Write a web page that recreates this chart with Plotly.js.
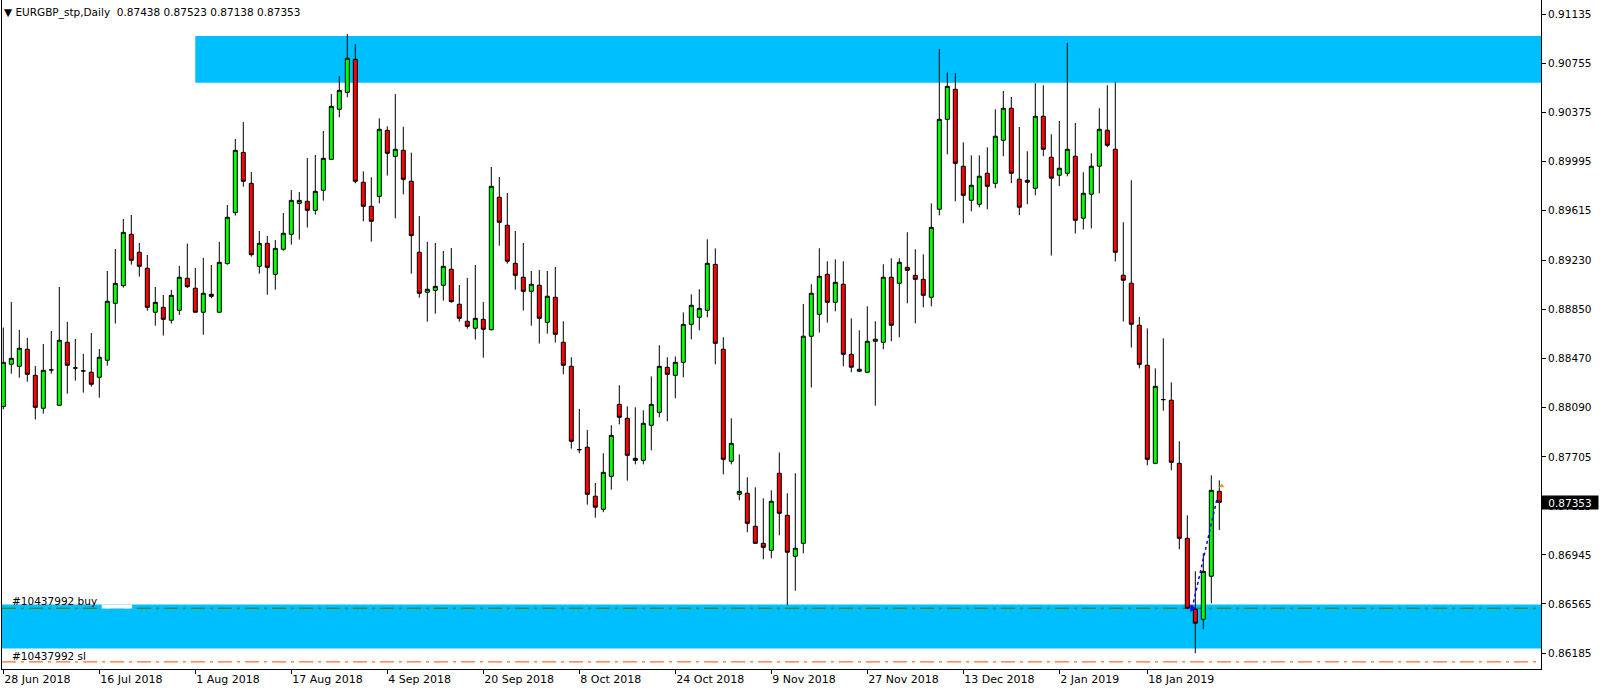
<!DOCTYPE html>
<html>
<head>
<meta charset="utf-8">
<script src="https://cdn.plot.ly/plotly-3.0.1.min.js"></script>
<style>
  html, body { margin: 0; padding: 0; background: #ffffff; }
  #chart { width: 1604px; height: 694px; }
</style>
</head>
<body>
<div id="chart"></div>
<script>
// ---- Data: EURGBP_stp, Daily ----
const symbolTitle = 'EURGBP_stp,Daily';

const openP = [
  0.88095,0.88423,0.88407,0.88539,0.88337,0.88082,0.88379,0.88105,0.88593,0.88394,
  0.88371,0.88361,0.88322,0.88454,0.88895,0.89032,0.89430,0.89291,0.89167,0.88826,
  0.88864,0.88764,0.88841,0.89089,0.89012,0.88826,0.88965,0.88826,0.89203,0.89598,
  0.90065,0.89825,0.89182,0.89360,0.89120,0.89314,0.89430,0.89670,0.89686,0.89616,
  0.89771,0.90011,0.90399,0.90530,0.90786,0.89833,0.89647,0.89724,0.90236,0.90034,
  0.90081,0.89841,0.89291,0.88981,0.88996,0.89035,0.89159,0.88888,0.88756,0.88702,
  0.88771,0.88691,0.89717,0.89500,0.89205,0.89097,0.88988,0.89035,0.88748,0.88942,
  0.88593,0.88407,0.87761,0.87780,0.87400,0.87299,0.87554,0.88112,0.88004,0.87694,
  0.87678,0.87950,0.88050,0.88399,0.88337,0.88438,0.88732,0.88787,0.88841,0.89197,
  0.88539,0.87671,0.87415,0.87423,0.87167,0.87035,0.86981,0.87578,0.87252,0.86935,
  0.87035,0.88640,0.88810,0.89120,0.88903,0.89043,0.88500,0.88369,0.88361,0.88601,
  0.88593,0.89097,0.89050,0.89174,0.89112,0.89081,0.88942,0.89624,0.90321,0.90554,
  0.89957,0.89694,0.89663,0.89903,0.89825,0.90159,0.90407,0.89857,0.89849,0.89787,
  0.90345,0.90027,0.89888,0.89903,0.90035,0.89555,0.89741,0.89958,0.90237,0.90089,
  0.89113,0.89051,0.88725,0.88415,0.87655,0.88149,0.88144,0.87655,0.87074,0.86524,
  0.86446,0.86780,0.87438
];
const highP = [
  0.88707,0.88906,0.88689,0.88627,0.88410,0.88580,0.88681,0.89022,0.88751,0.88619,
  0.88503,0.88665,0.88541,0.89146,0.89316,0.89549,0.89580,0.89363,0.89270,0.89022,
  0.88960,0.88999,0.89185,0.89358,0.89169,0.89247,0.89192,0.89371,0.89657,0.90169,
  0.90300,0.89913,0.89456,0.89417,0.89386,0.89595,0.89773,0.89758,0.90021,0.90045,
  0.90231,0.90517,0.90657,0.90982,0.90905,0.89918,0.89872,0.90329,0.90267,0.90517,
  0.90264,0.90063,0.89572,0.89371,0.89363,0.89301,0.89324,0.89037,0.89092,0.89192,
  0.88906,0.89952,0.89874,0.89750,0.89456,0.89363,0.89146,0.89154,0.89146,0.89177,
  0.88756,0.88477,0.88077,0.87914,0.87503,0.87733,0.87950,0.88260,0.88097,0.88089,
  0.88066,0.88329,0.88570,0.88477,0.88484,0.88825,0.88965,0.89004,0.89391,0.89321,
  0.88632,0.88004,0.87725,0.87547,0.87469,0.87384,0.87446,0.87740,0.87423,0.87578,
  0.88890,0.89043,0.89322,0.89221,0.89236,0.89221,0.88779,0.88686,0.88872,0.88756,
  0.89198,0.89244,0.89244,0.89446,0.89314,0.89275,0.89670,0.90864,0.90685,0.90678,
  0.90143,0.90042,0.90042,0.90104,0.90399,0.90541,0.90495,0.90262,0.90074,0.90601,
  0.90585,0.90206,0.90309,0.90913,0.90293,0.89911,0.90058,0.90407,0.90585,0.90608,
  0.89524,0.89849,0.88790,0.88701,0.88391,0.88624,0.88283,0.87826,0.87252,0.86818,
  0.86958,0.87562,0.87523
];
const lowP = [
  0.88074,0.88350,0.88319,0.88288,0.87994,0.88040,0.88350,0.88103,0.88195,0.88296,
  0.88203,0.88250,0.88164,0.88412,0.88738,0.89017,0.89195,0.89102,0.88838,0.88722,
  0.88645,0.88738,0.88805,0.89014,0.88826,0.88652,0.88934,0.88826,0.89195,0.89575,
  0.89799,0.89257,0.89125,0.88962,0.89001,0.89303,0.89350,0.89389,0.89482,0.89582,
  0.89691,0.90011,0.90337,0.90492,0.89825,0.89531,0.89373,0.89670,0.89885,0.89554,
  0.89740,0.89125,0.88939,0.88753,0.88815,0.88916,0.88900,0.88753,0.88699,0.88614,
  0.88474,0.88684,0.89342,0.89203,0.89001,0.88839,0.88722,0.88583,0.88660,0.88591,
  0.88345,0.87769,0.87733,0.87335,0.87234,0.87276,0.87451,0.87957,0.87521,0.87647,
  0.87647,0.87756,0.88012,0.87981,0.88159,0.88322,0.88616,0.88686,0.88787,0.88422,
  0.87570,0.87647,0.87368,0.87121,0.87035,0.86911,0.86919,0.87097,0.86557,0.86668,
  0.86958,0.88242,0.88668,0.88746,0.88833,0.88407,0.88361,0.88361,0.88353,0.88102,
  0.88539,0.88601,0.88632,0.88895,0.88740,0.88864,0.88872,0.89577,0.90050,0.89686,
  0.89515,0.89608,0.89639,0.89624,0.89787,0.90035,0.89826,0.89578,0.89663,0.89733,
  0.90035,0.89265,0.89803,0.89880,0.89436,0.89467,0.89475,0.89748,0.90105,0.89219,
  0.88754,0.88552,0.88391,0.87640,0.87648,0.88063,0.87601,0.86989,0.86524,0.86183,
  0.86369,0.86570,0.87138
];
const closeP = [
  0.88438,0.88469,0.88547,0.88345,0.88089,0.88376,0.88379,0.88609,0.88415,0.88394,
  0.88371,0.88268,0.88477,0.88911,0.89050,0.89445,0.89229,0.89182,0.88864,0.88903,
  0.88771,0.88957,0.89097,0.89024,0.88826,0.88973,0.88949,0.89213,0.89562,0.90081,
  0.89841,0.89272,0.89360,0.89174,0.89321,0.89438,0.89693,0.89693,0.89616,0.89763,
  0.90019,0.90422,0.90546,0.90794,0.89841,0.89647,0.89531,0.90244,0.90058,0.90089,
  0.89856,0.89420,0.88973,0.89004,0.89027,0.89182,0.88908,0.88779,0.88717,0.88779,
  0.88694,0.89802,0.89523,0.89221,0.89112,0.88988,0.89043,0.88779,0.88950,0.88655,
  0.88415,0.87826,0.87761,0.87415,0.87315,0.87585,0.87872,0.88012,0.87717,0.87678,
  0.87965,0.88112,0.88407,0.88345,0.88438,0.88732,0.88880,0.88856,0.89205,0.88585,
  0.87686,0.87810,0.87438,0.87190,0.87035,0.87004,0.87361,0.87268,0.86966,0.86997,
  0.88640,0.88973,0.89105,0.88903,0.89058,0.88500,0.88400,0.88384,0.88601,0.88617,
  0.89097,0.88725,0.89213,0.89151,0.89081,0.88957,0.89484,0.90321,0.90577,0.89980,
  0.89732,0.89810,0.89880,0.89802,0.90190,0.90407,0.89903,0.89640,0.89834,0.90345,
  0.90089,0.89865,0.89942,0.90089,0.89539,0.89748,0.89958,0.90244,0.90120,0.89291,
  0.89074,0.88733,0.88422,0.87686,0.88252,0.88149,0.87663,0.87074,0.86532,0.86416,
  0.86818,0.87446,0.87353
];

// date labels and the bar each one sits on
const dateLabels = ['28 Jun 2018','16 Jul 2018','1 Aug 2018','17 Aug 2018','4 Sep 2018',
  '20 Sep 2018','8 Oct 2018','24 Oct 2018','9 Nov 2018','27 Nov 2018','13 Dec 2018',
  '2 Jan 2019','18 Jan 2019'];
const dateTickBars = [0, 12, 24, 36, 48, 60, 72, 84, 96, 108, 120, 132, 143];

// price scale labels
const priceTicks = [0.91135,0.90755,0.90375,0.89995,0.89615,0.89230,0.88850,0.88470,
  0.88090,0.87705,0.87325,0.86945,0.86565,0.86185];

// zones and order levels
const resistanceZone = [0.90605, 0.90967];
const resistanceStartBar = 24;
const supportZone = [0.86219, 0.86560];
const orderId = '#10437992';
const buyPrice = 0.86532;
const slPrice = 0.86116;
const tradeX = [148.6, 151.7];
const tradeY = [0.86532, 0.87376];
const markX = [152.3];
const markY = [0.87480];

// ---- Build ----
const idx = openP.map((_, i) => i);
const last = openP.length - 1;
const xRange = [-0.1625, 192.2125];
const yRange = [0.86061, 0.91246];
const FONT = 'DejaVu Sans, Verdana, sans-serif';
const fmt = v => v.toFixed(5);

const traces = [
  {
    type: 'candlestick', x: idx, open: openP, high: highP, low: lowP, close: closeP,
    increasing: { line: { color: '#000000', width: 1 }, fillcolor: '#00ff00' },
    decreasing: { line: { color: '#000000', width: 1 }, fillcolor: '#ff0000' },
    whiskerwidth: 0, hoverinfo: 'skip', showlegend: false
  },
  {
    type: 'scatter', mode: 'lines', x: tradeX, y: tradeY,
    line: { color: '#0000ff', width: 1.5, dash: 'dot' }, hoverinfo: 'skip', showlegend: false
  },
  {
    type: 'scatter', mode: 'markers', x: [tradeX[0]], y: [tradeY[0]],
    marker: { symbol: 'triangle-right', size: 7, color: '#0000ff' }, hoverinfo: 'skip', showlegend: false
  },
  {
    type: 'scatter', mode: 'markers', x: markX, y: markY,
    marker: { symbol: 'triangle-up', size: 5, color: '#e0a020' }, hoverinfo: 'skip', showlegend: false
  }
];

const shapes = [
  { type: 'rect', xref: 'x', yref: 'y', layer: 'below',
    x0: resistanceStartBar, x1: xRange[1], y0: resistanceZone[0], y1: resistanceZone[1],
    fillcolor: '#00bfff', line: { width: 0 } },
  { type: 'rect', xref: 'x', yref: 'y', layer: 'below',
    x0: xRange[0], x1: xRange[1], y0: supportZone[0], y1: supportZone[1],
    fillcolor: '#00bfff', line: { width: 0 } },
  { type: 'line', xref: 'x', yref: 'y', layer: 'below',
    x0: xRange[0], x1: xRange[1], y0: buyPrice, y1: buyPrice,
    line: { color: '#008000', width: 1, dash: '14px,5px,3px,5px' } },
  { type: 'rect', xref: 'x', yref: 'y', layer: 'below',
    x0: 12.3, x1: 16.1, y0: buyPrice - 0.00003, y1: supportZone[1],
    fillcolor: '#ffffff', line: { width: 0 } },
  { type: 'line', xref: 'x', yref: 'y', layer: 'below',
    x0: xRange[0], x1: xRange[1], y0: slPrice, y1: slPrice,
    line: { color: '#ff4500', width: 1, dash: '14px,5px,3px,5px' } }
];

const nb = '\u00a0';
const annotations = [
  { xref: 'paper', yref: 'paper', x: 0, y: 1, xanchor: 'left', yanchor: 'top',
    xshift: 0, yshift: -4, showarrow: false,
    text: '\u25BC' + nb + symbolTitle + nb + nb + [openP[last], highP[last], lowP[last], closeP[last]].map(fmt).join(nb),
    font: { family: FONT, size: 10.5, color: '#000000' } },
  { xref: 'paper', yref: 'y', x: 0, y: buyPrice, xanchor: 'left', yanchor: 'middle',
    xshift: 8, yshift: 7, showarrow: false, text: orderId + nb + 'buy',
    font: { family: FONT, size: 10.5, color: '#000000' } },
  { xref: 'paper', yref: 'y', x: 0, y: slPrice, xanchor: 'left', yanchor: 'middle',
    xshift: 8, yshift: 6, showarrow: false, text: orderId + nb + 'sl',
    font: { family: FONT, size: 10.5, color: '#000000' } },
  { xref: 'paper', yref: 'y', x: 1, y: closeP[last], xanchor: 'left', yanchor: 'middle',
    xshift: 0, showarrow: false, text: fmt(closeP[last]), bgcolor: '#000000',
    width: 56, height: 13, borderpad: 0, align: 'center',
    font: { family: FONT, size: 10.5, color: '#ffffff' } }
];

const layout = {
  width: 1604, height: 694,
  margin: { l: 2, r: 63, t: 0, b: 25, pad: 0 },
  paper_bgcolor: '#ffffff', plot_bgcolor: '#ffffff',
  showlegend: false, hovermode: false,
  boxgap: 0.5, boxgroupgap: 0,
  xaxis: {
    range: xRange, tickmode: 'array', tickvals: dateTickBars, ticktext: dateLabels,
    showgrid: false, zeroline: false, showline: true, linecolor: '#000000', linewidth: 1,
    ticks: 'outside', ticklen: 4, tickcolor: '#000000', tickwidth: 1,
    ticklabelposition: 'outside right',
    tickfont: { family: FONT, size: 11, color: '#000000' },
    rangeslider: { visible: false }, fixedrange: true
  },
  yaxis: {
    side: 'right', range: yRange, tickmode: 'array', tickvals: priceTicks,
    ticktext: priceTicks.map(fmt),
    showgrid: false, zeroline: false, showline: true, mirror: true,
    linecolor: '#000000', linewidth: 1,
    ticks: 'outside', ticklen: 4, tickcolor: '#000000', tickwidth: 1,
    tickfont: { family: FONT, size: 10.5, color: '#000000' }, fixedrange: true
  },
  shapes: shapes,
  annotations: annotations
};

Plotly.newPlot('chart', traces, layout, { staticPlot: true, displayModeBar: false });
</script>
</body>
</html>
